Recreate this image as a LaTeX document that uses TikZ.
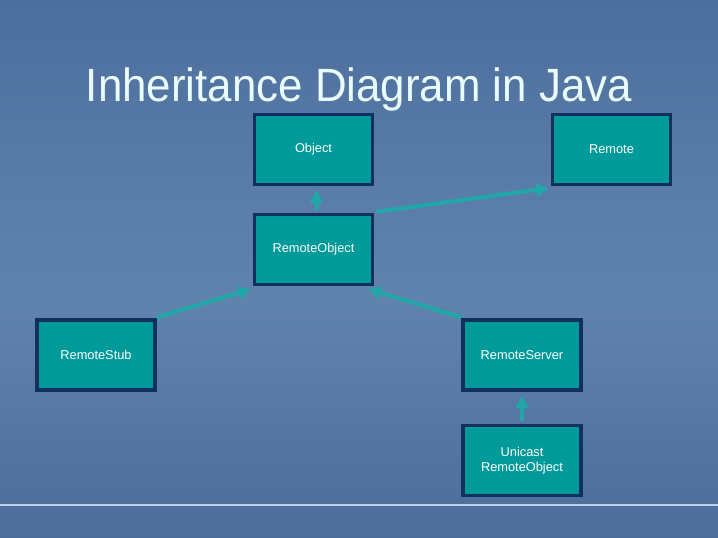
\documentclass[tikz,border=0pt]{standalone}
\usepackage{fontspec}
\setmainfont{Liberation Sans}
\newfontfamily\titlefont[FakeStretch=0.94]{Liberation Sans}
\usetikzlibrary{arrows.meta}
\definecolor{bgtop}{HTML}{4D6F9E}
\definecolor{bgmid}{HTML}{6083AE}
\definecolor{bgbot}{HTML}{4C6C99}
\definecolor{boxfill}{HTML}{009A9A}
\definecolor{boxline}{HTML}{10305E}
\definecolor{arrowc}{HTML}{20A8A8}
\definecolor{titlec}{HTML}{EAFBFB}
\definecolor{rulec}{HTML}{B8D0EC}
\tikzset{
  cls/.style={draw=boxline, line width=2.6pt, fill=boxfill, minimum width=118*0.75pt, minimum height=70*0.75pt, inner sep=0pt, text=white, font=\fontsize{9.6pt}{11.5pt}\selectfont, align=center},
  inh/.style={draw=arrowc, line width=3pt, -{Triangle[length=9.5pt,width=9.5pt]}}
}
\begin{document}
\begin{tikzpicture}[x=0.75pt,y=-0.75pt]
\useasboundingbox (0,0) rectangle (718,538);
\shade[top color=bgtop, bottom color=bgmid] (0,0) rectangle (718,300);
\shade[top color=bgmid, bottom color=bgbot] (0,300) rectangle (718,538);
\draw[rulec, line width=0.9pt] (0,505) -- (718,505);
\node[text=titlec, font=\titlefont\fontsize{35pt}{40pt}\selectfont, anchor=base] (title) at (359,102) {Inheritance Diagram in Java};
\node[cls] (obj) at (313.5,149.5) {Object};
\node[cls] (rem) at (611.5,149.5) {Remote};
\node[cls] (ro) at (313.5,249.5) {RemoteObject};
\node[cls] (stub) at (96,355) {RemoteStub};
\node[cls] (srv) at (522,355) {RemoteServer};
\node[cls] (uro) at (522,460.5) {Unicast\\RemoteObject};
\draw[inh] ([shift={(3,-3)}]ro.north) -- ([shift={(3,4)}]obj.south);
\draw[inh] ([shift={(2,-1)}]ro.north east) -- ([shift={(-2,2)}]rem.south west);
\draw[inh] ([shift={(0,-1)}]stub.north east) -- ([shift={(-2,3)}]ro.south west);
\draw[inh] ([shift={(0,-1)}]srv.north west) -- ([shift={(-6,3)}]ro.south east);
\draw[inh] ([shift={(0,-3)}]uro.north) -- ([shift={(0,4)}]srv.south);
\end{tikzpicture}
\end{document}
